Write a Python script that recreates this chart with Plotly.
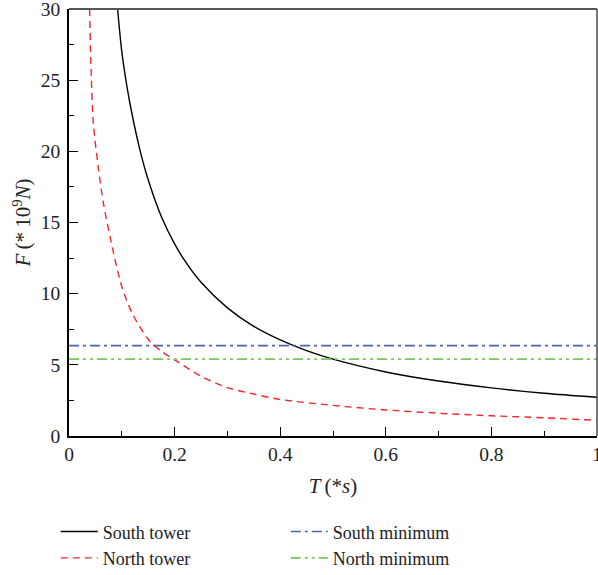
import plotly.graph_objects as go

# South tower curve (T in s, F in 1e9 N)
south_T = [0.092, 0.10, 0.11, 0.12, 0.135, 0.15, 0.175, 0.20, 0.225, 0.25, 0.30, 0.35, 0.40, 0.45, 0.50, 0.60, 0.70, 0.80, 0.90, 1.00]
south_F = [30.0, 27.0, 24.5, 22.5, 20.0, 18.0, 15.4, 13.5, 12.0, 10.8, 9.0, 7.7, 6.75, 6.0, 5.4, 4.5, 3.86, 3.38, 3.0, 2.72]

# North tower curve
north_T = [0.039, 0.042, 0.046, 0.055, 0.065, 0.08, 0.10, 0.12, 0.15, 0.175, 0.20, 0.25, 0.30, 0.35, 0.40, 0.50, 0.60, 0.70, 0.80, 0.90, 1.00]
north_F = [30.0, 25.5, 22.0, 19.0, 16.4, 13.6, 10.5, 8.6, 6.8, 5.95, 5.35, 4.2, 3.4, 2.95, 2.57, 2.15, 1.83, 1.6, 1.42, 1.28, 1.1]

# Minimum lines
min_T = [0.0, 1.0]
south_min = 6.35
north_min = 5.4

x_ticks = [0, 0.2, 0.4, 0.6, 0.8, 1.0]
x_ticktext = ["0", "0.2", "0.4", "0.6", "0.8", "1"]
y_ticks = [0, 5, 10, 15, 20, 25, 30]

serif = "Liberation Serif"
txt = "#222"

fig = go.Figure()
fig.add_trace(go.Scatter(x=south_T, y=south_F, mode="lines", name="South tower",
                         line=dict(color="black", width=1.4, shape="spline", smoothing=0.8),
                         legendrank=1))
fig.add_trace(go.Scatter(x=min_T, y=[south_min, south_min], mode="lines", name="South minimum",
                         line=dict(color="#4a66b0", width=1.6, dash="10px,4px,3px,4px"),
                         legendrank=2))
fig.add_trace(go.Scatter(x=north_T, y=north_F, mode="lines", name="North tower",
                         line=dict(color="#f0282e", width=1.4, dash="7px,5px", shape="spline", smoothing=0.8),
                         legendrank=3))
fig.add_trace(go.Scatter(x=min_T, y=[north_min, north_min], mode="lines", name="North minimum",
                         line=dict(color="#7cc85a", width=1.6, dash="10px,4px,3px,4px,3px,4px"),
                         legendrank=4))

axis_common = dict(
    showgrid=False, zeroline=False, showline=True, linecolor="black", linewidth=1.6,
    ticks="inside", ticklen=9, tickwidth=1.4, tickcolor="black",
    tickfont=dict(family=serif, size=19.5, color=txt),
    ticklabeloverflow="allow", automargin=False,
)

fig.update_xaxes(range=[0, 1], tickvals=x_ticks, ticktext=x_ticktext,
                 minor=dict(ticks="inside", ticklen=5, tickwidth=1.2, tickcolor="black", dtick=0.1),
                 ticklabelstandoff=0,
                 title=dict(text="<i>T</i>\u2009(*<i>s</i>)", font=dict(family=serif, size=21, color=txt), standoff=14),
                 **axis_common)
fig.update_yaxes(range=[0, 30], tickvals=y_ticks,
                 minor=dict(ticks="inside", ticklen=5, tickwidth=1.2, tickcolor="black", dtick=2.5),
                 ticklabelstandoff=3,
                 title=dict(text="<i>F</i>\u2009(*\u200910<sup>9</sup><i>N</i>)", font=dict(family=serif, size=21, color=txt), standoff=4),
                 **axis_common)

# top and right frame lines
fig.add_shape(type="line", xref="paper", yref="paper", x0=0, x1=1, y0=1, y1=1,
              line=dict(color="#555", width=2.2))
fig.add_shape(type="line", xref="paper", yref="paper", x0=1, x1=1, y0=0, y1=1,
              line=dict(color="#555", width=1.6))

fig.update_layout(
    width=598, height=575,
    margin=dict(l=69, r=1, t=9, b=139, autoexpand=False),
    plot_bgcolor="white", paper_bgcolor="white",
    showlegend=True,
    legend=dict(orientation="h", x=-0.025, xanchor="left", y=-0.181, yanchor="top",
                entrywidth=178, entrywidthmode="pixels", itemwidth=37,
                font=dict(family=serif, size=18, color=txt),
                bgcolor="rgba(0,0,0,0)", traceorder="normal"),
)

fig.write_html("out.html", config={"displayModeBar": False},
               post_script="document.body.style.margin='0';")
